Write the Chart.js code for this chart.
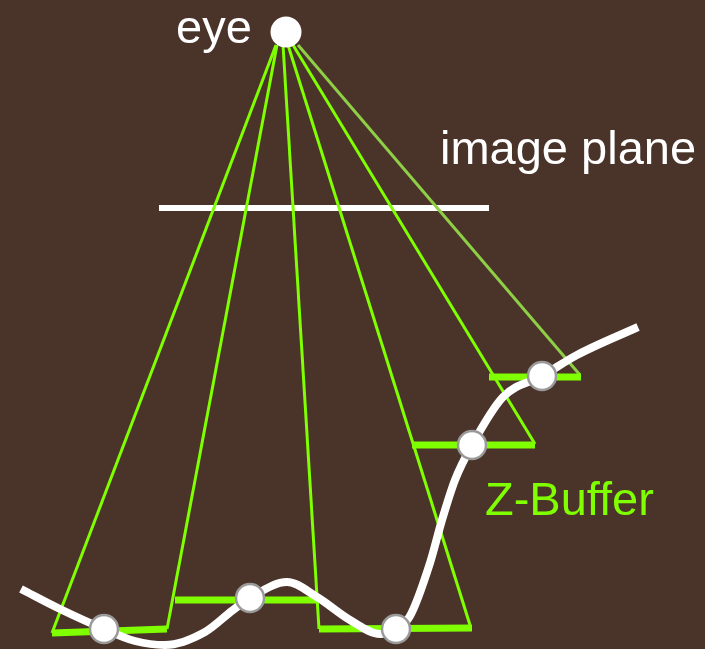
<!DOCTYPE html>
<html>
<head>
<meta charset="utf-8">
<script src="https://cdn.jsdelivr.net/npm/chart.js@4"></script>
<style>
  html, body { margin: 0; padding: 0; background: #4a3329; }
  #wrap { width: 705px; height: 649px; }
</style>
</head>
<body>
<div id="wrap"><canvas id="zChart" width="705" height="649"></canvas></div>
<script>
// values (x right, y down)
const eyeX = [286], eyeY = [32];
const planeX = [159, 489], planeY = [208, 208];

const rayFromX = [276, 277, 283, 288, 293, 298];
const rayFromY = [45, 45, 45, 45, 45, 45];
const rayToX = [52, 167, 319, 470, 535, 580];
const rayToY = [633, 629, 629, 625, 444, 375];

const barLeftX = [52, 175, 319, 412, 489];
const barLeftY = [633, 600, 629, 445, 377];
const barRightX = [167, 318, 472, 535, 581];
const barRightY = [629, 600, 628, 445, 377];

const hitX = [104, 250, 396, 472, 542];
const hitY = [629, 598, 629, 445, 376];

const curveX = [21, 60, 104, 135, 165, 205, 233, 250, 287, 317, 350, 380, 396, 410, 430, 442, 455, 472, 503, 542, 577, 638];
const curveY = [589, 609, 629, 641, 645, 632, 610, 598, 582, 597, 620, 634, 629, 616, 563, 520, 480, 445, 397, 376, 355, 327];

const labelText = ['eye', 'image plane', 'Z-Buffer'];
const labelX = [176, 440, 485];
const labelY = [43, 164, 515];

const green = '#7fff00';
const paleGreen = '#8fcf45';

function pts(xs, ys) {
    return xs.map((x, i) => ({ x: x, y: ys[i] }));
}

let datasets = [];

// rays from the eye
rayToX.forEach((x, i) => {
    datasets.push({
        data: [{ x: rayFromX[i], y: rayFromY[i] }, { x: x, y: rayToY[i] }],
        borderColor: i == 5 ? paleGreen : green,
        borderWidth: 3,
        pointRadius: 0,
        order: 4
    });
});

// depth buffer bars
barLeftX.forEach((x, i) => {
    datasets.push({
        data: [{ x: x, y: barLeftY[i] }, { x: barRightX[i], y: barRightY[i] }],
        borderColor: green,
        borderWidth: 7,
        pointRadius: 0,
        order: 3
    });
});

datasets.push({
    data: pts(planeX, planeY),
    borderColor: '#ffffff',
    borderWidth: 6,
    pointRadius: 0,
    order: 5
});

datasets.push({
    data: pts(curveX, curveY),
    borderColor: '#ffffff',
    borderWidth: 8,
    borderCapStyle: 'butt',
    cubicInterpolationMode: 'monotone',
    pointRadius: 0,
    order: 2
});

datasets.push({
    data: pts(hitX, hitY),
    showLine: false,
    pointRadius: 14,
    pointBackgroundColor: '#ffffff',
    pointBorderColor: '#9a9a9a',
    pointBorderWidth: 2.5,
    order: 1
});

datasets.push({
    data: pts(eyeX, eyeY),
    showLine: false,
    pointRadius: 15.5,
    pointBackgroundColor: '#ffffff',
    pointBorderWidth: 0,
    order: 0
});

const bgPlugin = {
    id: 'bg',
    beforeDraw(chart) {
        let c = chart.ctx;
        c.save();
        c.fillStyle = '#4a3329';
        c.fillRect(0, 0, chart.width, chart.height);
        c.restore();
    },
    afterDraw(chart) {
        let c = chart.ctx;
        let xs = chart.scales.x, ys = chart.scales.y;
        c.save();
        c.font = '47px "Liberation Sans", Arial, sans-serif';
        c.textBaseline = 'alphabetic';
        labelText.forEach((t, i) => {
            c.fillStyle = i == 2 ? green : '#ffffff';
            c.fillText(t, xs.getPixelForValue(labelX[i]), ys.getPixelForValue(labelY[i]));
        });
        c.restore();
    }
};

let ctx = document.getElementById('zChart').getContext('2d');
new Chart(ctx, {
    type: 'scatter',
    data: { datasets: datasets },
    options: {
        responsive: false,
        animation: false,
        layout: { padding: 0, autoPadding: false },
        plugins: { legend: { display: false }, tooltip: { enabled: false } },
        datasets: { scatter: { showLine: true, clip: false } },
        scales: {
            x: { type: 'linear', min: 0, max: 705, display: false },
            y: { type: 'linear', min: 0, max: 649, reverse: true, display: false }
        }
    },
    plugins: [bgPlugin]
});
</script>
</body>
</html>
